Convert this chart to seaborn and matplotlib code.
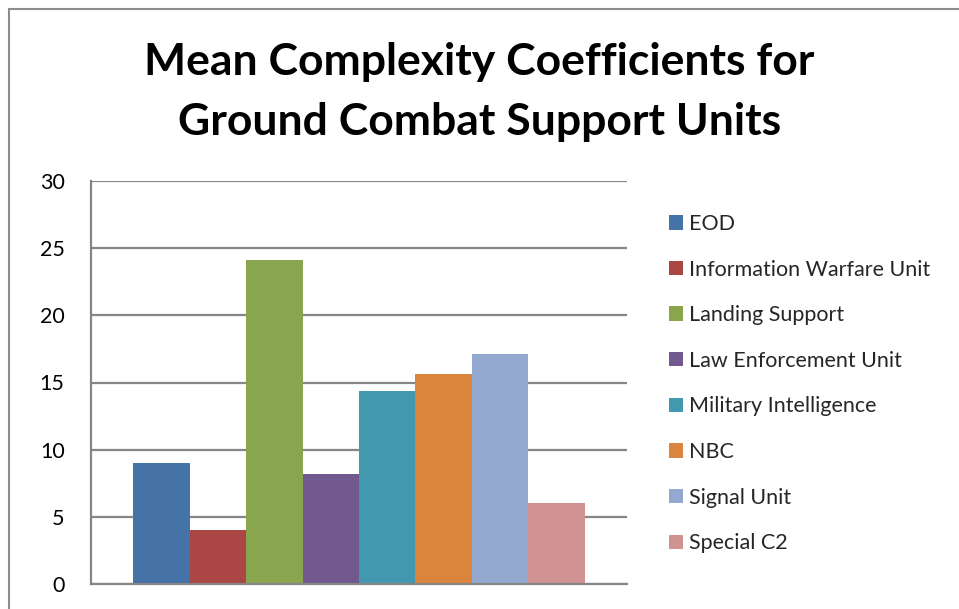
import matplotlib
matplotlib.use("Agg")
import matplotlib.pyplot as plt
import matplotlib.patches as patches
import seaborn as sns
import pandas as pd

# Unit names and their mean complexity coefficients
units = ['EOD', 'Information Warfare Unit', 'Landing Support', 'Law Enforcement Unit',
         'Military Intelligence', 'NBC', 'Signal Unit', 'Special C2']
coefficients = [9.0, 4.0, 24.1, 8.2, 14.35, 15.6, 17.1, 6.0]
colors = ['#4572A7', '#AA4643', '#89A54E', '#71588F', '#4198AF', '#DB843D', '#93A9CF', '#D19392']
y_ticks = [0, 5, 10, 15, 20, 25, 30]

df = pd.DataFrame({'group': [''] * len(units), 'unit': units, 'value': coefficients})

sns.set_style('white')
plt.rcParams['font.family'] = ['Lato', 'DejaVu Sans']

fig = plt.figure(figsize=(9.59, 6.09), dpi=100)
ax = fig.add_axes([91 / 959, 1 - 584 / 609, (627 - 91) / 959, (584 - 181) / 609])

sns.barplot(data=df, x='group', y='value', hue='unit', palette=colors, saturation=1,
            width=8 / 9.5, gap=0, linewidth=0, ax=ax, legend=True)

ax.set_ylim(0, 30)
ax.set_xlim(-0.5, 0.5)
ax.set_yticks(y_ticks)
ax.set_yticklabels([str(t) for t in y_ticks], fontsize=15.5, color='black')
ax.tick_params(axis='y', length=0, pad=19)
ax.tick_params(axis='x', length=0, labelbottom=False)
ax.set_xlabel('')
ax.set_ylabel('')
ax.yaxis.grid(True, color='#868686', linewidth=1.6)
ax.set_axisbelow(True)
for side in ['top', 'right']:
    ax.spines[side].set_visible(False)
for side in ['left', 'bottom']:
    ax.spines[side].set_color('#868686')
    ax.spines[side].set_linewidth(1.6)

# Legend on the right, outside of the plot area
handles, labels = ax.get_legend_handles_labels()
ax.get_legend().remove()
fig.legend(handles, labels, loc='upper left', bbox_to_anchor=(669 / 959, 1 - 214 / 609),
           frameon=False, fontsize=15.5, handlelength=0.65, handleheight=0.65,
           handletextpad=0.3, labelspacing=1.19, borderaxespad=0, borderpad=0)

# Title, two lines
fig.text(0.5, 1 - 92 / 609, 'Mean Complexity Coefficients for\nGround Combat Support Units',
         ha='center', va='center', fontsize=32, fontweight='bold', linespacing=1.6,
         color='black')

# Chart frame
fig.patches.append(patches.Rectangle((9 / 959, -0.1), 1.2, 1 - 9 / 609 + 0.1,
                                     transform=fig.transFigure, fill=False,
                                     edgecolor='#8c8c8c', linewidth=1.5))

plt.savefig('out.png', dpi=100)
